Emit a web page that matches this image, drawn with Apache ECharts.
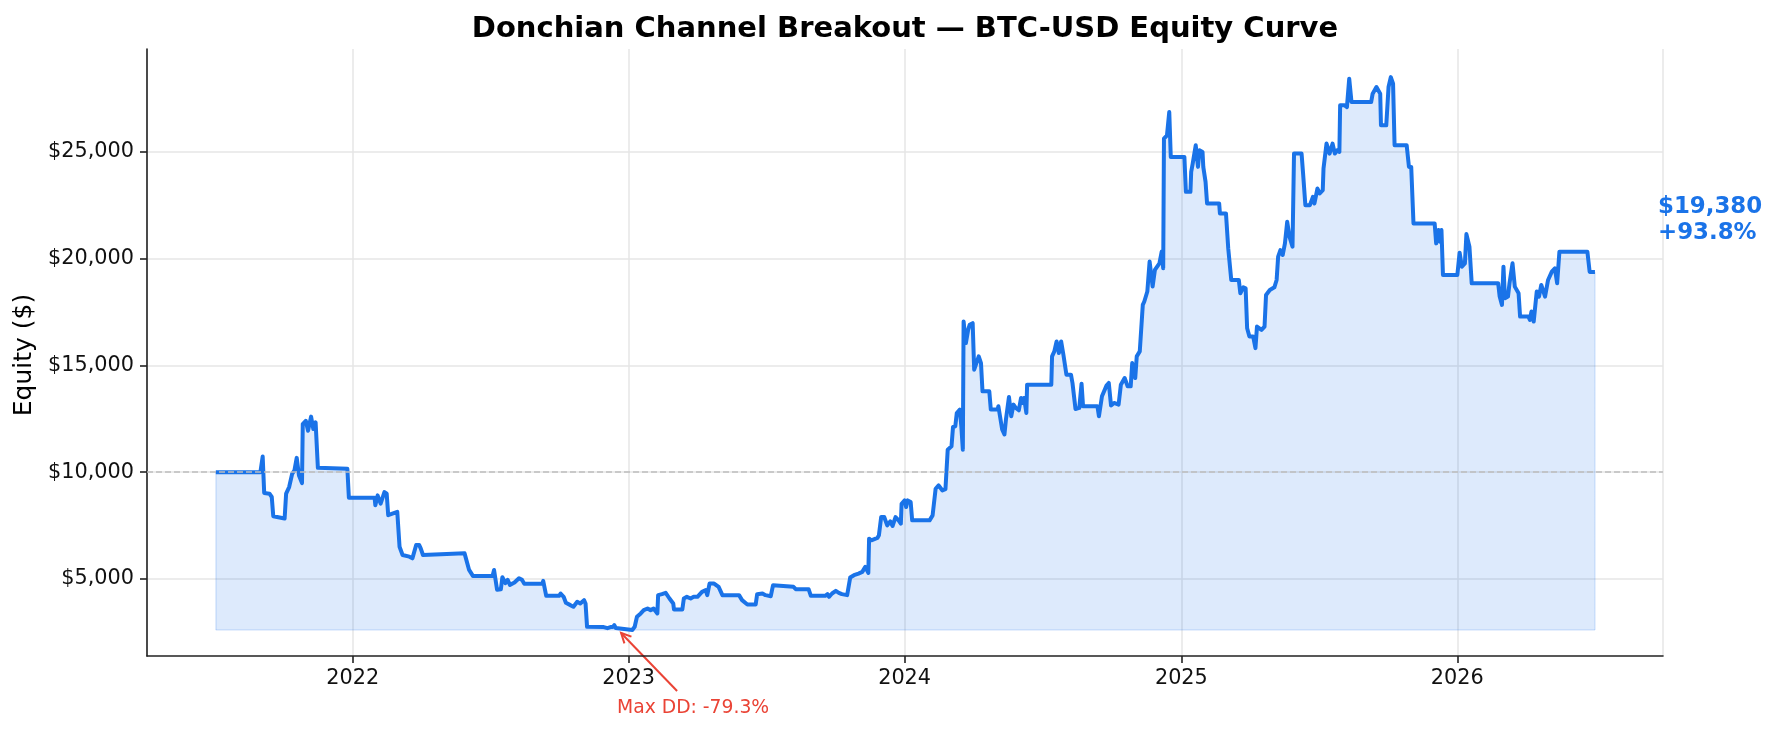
<!DOCTYPE html>
<html lang="en">
<head>
<meta charset="utf-8">
<title>Donchian Channel Breakout — BTC-USD Equity Curve</title>
<script src="https://cdn.jsdelivr.net/npm/echarts@6/dist/echarts.min.js"></script>
<style>
  html, body { margin: 0; padding: 0; background: #fff; }
  #chart { width: 1777px; height: 732px; }
</style>
</head>
<body>
<div id="chart"></div>
<script>
// equity curve (turning points of the daily series)
var dates = [
  '2021-07-04','2021-09-01','2021-09-04','2021-09-06','2021-09-13','2021-09-16','2021-09-18','2021-10-03',
  '2021-10-05','2021-10-09','2021-10-13','2021-10-16','2021-10-19','2021-10-22','2021-10-26','2021-10-27',
  '2021-10-31','2021-11-03','2021-11-07','2021-11-10','2021-11-13','2021-11-16','2021-12-25','2021-12-27',
  '2022-01-30','2022-01-31','2022-02-03','2022-02-07','2022-02-12','2022-02-15','2022-02-17','2022-03-01',
  '2022-03-04','2022-03-08','2022-03-17','2022-03-21','2022-03-26','2022-03-30','2022-04-01','2022-04-04',
  '2022-04-06','2022-05-29','2022-06-04','2022-06-09','2022-07-05','2022-07-07','2022-07-11','2022-07-16',
  '2022-07-18','2022-07-22','2022-07-25','2022-07-28','2022-08-03','2022-08-09','2022-08-13','2022-08-16',
  '2022-09-09','2022-09-10','2022-09-14','2022-10-01','2022-10-03','2022-10-07','2022-10-10','2022-10-16',
  '2022-10-20','2022-10-25','2022-10-29','2022-11-03','2022-11-05','2022-11-07','2022-11-29','2022-12-04',
  '2022-12-08','2022-12-11','2022-12-13','2022-12-15','2022-12-16','2023-01-06','2023-01-09','2023-01-12',
  '2023-01-17','2023-01-21','2023-01-26','2023-01-30','2023-02-03','2023-02-08','2023-02-09','2023-02-14',
  '2023-02-19','2023-02-24','2023-03-01','2023-03-02','2023-03-13','2023-03-15','2023-03-19','2023-03-24',
  '2023-03-28','2023-04-02','2023-04-08','2023-04-13','2023-04-15','2023-04-18','2023-04-24','2023-04-30',
  '2023-05-05','2023-05-27','2023-05-31','2023-06-07','2023-06-18','2023-06-20','2023-06-27','2023-07-01',
  '2023-07-03','2023-07-08','2023-07-11','2023-08-07','2023-08-10','2023-08-27','2023-08-30','2023-09-18',
  '2023-09-21','2023-09-23','2023-09-27','2023-10-02','2023-10-06','2023-10-10','2023-10-17','2023-10-21',
  '2023-10-26','2023-11-01','2023-11-06','2023-11-10','2023-11-14','2023-11-15','2023-11-18','2023-11-26',
  '2023-11-28','2023-12-01','2023-12-05','2023-12-09','2023-12-13','2023-12-16','2023-12-20','2023-12-24',
  '2023-12-27','2023-12-28','2024-01-01','2024-01-03','2024-01-05','2024-01-09','2024-01-11','2024-02-03',
  '2024-02-07','2024-02-11','2024-02-15','2024-02-20','2024-02-24','2024-02-27','2024-03-03','2024-03-05',
  '2024-03-08','2024-03-10','2024-03-14','2024-03-16','2024-03-18','2024-03-19','2024-03-22','2024-03-25',
  '2024-03-27','2024-03-31','2024-04-02','2024-04-04','2024-04-08','2024-04-11','2024-04-13','2024-04-22',
  '2024-04-24','2024-05-03','2024-05-04','2024-05-09','2024-05-12','2024-05-14','2024-05-18','2024-05-21',
  '2024-05-24','2024-05-27','2024-05-31','2024-06-03','2024-06-05','2024-06-07','2024-06-10','2024-06-11',
  '2024-07-13','2024-07-14','2024-07-17','2024-07-20','2024-07-23','2024-07-26','2024-07-29','2024-08-02',
  '2024-08-08','2024-08-10','2024-08-14','2024-08-19','2024-08-22','2024-08-24','2024-09-12','2024-09-14',
  '2024-09-18','2024-09-24','2024-09-27','2024-09-30','2024-10-04','2024-10-10','2024-10-13','2024-10-18',
  '2024-10-22','2024-10-26','2024-10-28','2024-11-01','2024-11-03','2024-11-07','2024-11-11','2024-11-13',
  '2024-11-17','2024-11-20','2024-11-24','2024-11-27','2024-12-03','2024-12-06','2024-12-08','2024-12-09',
  '2024-12-13','2024-12-16','2024-12-18','2025-01-05','2025-01-07','2025-01-13','2025-01-14','2025-01-16',
  '2025-01-20','2025-01-23','2025-01-25','2025-01-29','2025-01-30','2025-02-02','2025-02-04','2025-02-20',
  '2025-02-21','2025-03-01','2025-03-04','2025-03-06','2025-03-08','2025-03-18','2025-03-20','2025-03-24',
  '2025-03-27','2025-03-29','2025-04-01','2025-04-06','2025-04-09','2025-04-11','2025-04-17','2025-04-21',
  '2025-04-23','2025-04-28','2025-05-04','2025-05-07','2025-05-09','2025-05-12','2025-05-15','2025-05-18',
  '2025-05-21','2025-05-24','2025-05-28','2025-05-30','2025-06-09','2025-06-11','2025-06-14','2025-06-20',
  '2025-06-24','2025-06-26','2025-06-30','2025-07-03','2025-07-07','2025-07-08','2025-07-12','2025-07-16',
  '2025-07-20','2025-07-23','2025-07-26','2025-07-29','2025-07-30','2025-08-05','2025-08-08','2025-08-11',
  '2025-08-14','2025-09-09','2025-09-11','2025-09-16','2025-09-21','2025-09-22','2025-09-29','2025-10-02',
  '2025-10-05','2025-10-08','2025-10-10','2025-10-26','2025-10-29','2025-11-01','2025-11-04','2025-12-02',
  '2025-12-04','2025-12-07','2025-12-09','2025-12-11','2025-12-13','2026-01-01','2026-01-04','2026-01-07',
  '2026-01-11','2026-01-13','2026-01-17','2026-01-20','2026-02-24','2026-02-26','2026-03-01','2026-03-03',
  '2026-03-05','2026-03-09','2026-03-11','2026-03-15','2026-03-18','2026-03-23','2026-03-25','2026-04-05',
  '2026-04-07','2026-04-09','2026-04-12','2026-04-16','2026-04-19','2026-04-22','2026-04-27','2026-05-01',
  '2026-05-06','2026-05-10','2026-05-13','2026-05-16','2026-06-22','2026-06-25','2026-07-02'
];
var equity = [
  10000,10000,10730,9022,8990,8835,7935,7826,
  8990,9301,9922,10078,10668,9845,9488,12252,
  12407,11941,12600,12019,12330,10202,10155,8804,
  8804,8447,8913,8525,9068,8990,7981,8136,
  6506,6118,6040,5962,6584,6584,6428,6118,
  6195,6195,5419,5139,5139,5419,4487,4518,
  5077,4798,4953,4720,4829,5031,4953,4767,
  4767,4906,4207,4207,4315,4159,3879,3770,
  3692,3925,3847,4003,3847,2757,2740,2690,
  2740,2740,2835,2700,2608,2608,2757,3224,
  3380,3536,3614,3536,3614,3380,4237,4284,
  4346,4081,3848,3567,3567,4081,4159,4081,
  4159,4159,4392,4470,4237,4782,4782,4626,
  4237,4237,4003,3801,3801,4284,4315,4237,
  4315,4190,4704,4626,4517,4517,4206,4206,
  4284,4159,4315,4439,4346,4284,4237,5062,
  5171,5249,5327,5561,5280,6885,6807,6916,
  7040,7897,7897,7508,7695,7477,7897,7741,
  7586,8520,8676,8365,8676,8598,7741,7741,
  7975,9221,9377,9143,9200,11054,11210,12113,
  12144,12770,12925,12144,11054,17056,16044,16667,
  16901,16980,14798,14720,15421,15110,13785,13785,
  12929,12929,13085,11995,11761,12463,13522,12618,
  13163,13007,12898,13475,13241,13475,12774,14098,
  14098,15422,15655,16123,15578,16123,15500,14565,
  14565,14176,12960,13007,14144,13085,13085,12618,
  13553,14052,14176,13117,13241,13163,14098,14409,
  14020,14020,15110,14409,15422,15655,17836,17992,
  18460,19862,18694,19473,19784,20330,19551,25623,
  25779,26870,24766,24766,23130,23130,24065,24455,
  25312,24299,25078,25000,24299,23598,22585,22585,
  22117,22117,20481,20404,19001,19001,18379,18659,
  18612,16742,16353,16353,15808,16820,16665,16820,
  18301,18534,18659,19001,20092,20404,20170,20716,
  21728,21027,20560,24922,24922,23987,22507,22507,
  22897,22585,23286,23053,23208,24221,25390,24922,
  25390,24922,25078,25000,27181,27181,27103,28427,
  27337,27337,27727,28038,27727,26246,26246,28038,
  28505,28194,25312,25312,24299,24299,21650,21650,
  20716,21339,20793,21339,19235,19235,20280,19625,
  19781,21150,20560,18846,18846,18223,17833,19625,
  18145,18223,18846,19781,18690,18379,17288,17288,
  17132,17522,17054,18457,18223,18768,18223,19001,
  19391,19547,18846,20326,20326,19380,19380
];
var yTicks = [5000, 10000, 15000, 20000, 25000];
var startCapital = 10000;
var ddDate = '2022-12-22';   // where the drawdown arrow points

var FONT = 'DejaVu Sans';
var BLUE = '#1a73e8';
var RED = '#ea4335';

var trough = Math.min.apply(null, equity);
var lastValue = equity[equity.length - 1];
var peak = 0, maxDD = 0;
equity.forEach(function (v) {
  peak = Math.max(peak, v);
  maxDD = Math.min(maxDD, v / peak - 1);
});
var totalRet = (lastValue / startCapital - 1) * 100;

function money(v) { return '$' + Math.round(v).toLocaleString('en-US'); }
function ts(d) { var p = d.split('-'); return new Date(+p[0], p[1] - 1, +p[2]).getTime(); }

var chart = echarts.init(document.getElementById('chart'), null, { renderer: 'canvas' });
var first = dates[0], last = dates[dates.length - 1];
var edge = { color: 'rgba(26,115,232,0.15)', type: 'solid', width: 1.5 };

chart.setOption({
  animation: false,
  backgroundColor: '#fff',
  textStyle: { fontFamily: FONT },
  grid: { left: 147, right: 114, top: 49, bottom: 76 },
  xAxis: {
    type: 'time',
    min: '2021-04-04',
    max: '2026-09-30',
    splitNumber: 5,
    axisLine: { show: true, lineStyle: { color: '#222', width: 1.6 } },
    axisTick: { show: true, length: 7, lineStyle: { color: '#222', width: 1.6 } },
    axisLabel: { formatter: '{yyyy}', fontSize: 20.8, color: '#111', fontFamily: FONT, margin: 12, hideOverlap: false },
    splitLine: { show: true, lineStyle: { color: '#e6e6e6', width: 1.5 } }
  },
  yAxis: {
    type: 'value',
    min: 1387,
    max: 29821,
    axisLine: { show: true, lineStyle: { color: '#222', width: 1.6 } },
    axisTick: { show: true, length: 7, customValues: yTicks, lineStyle: { color: '#222', width: 1.6 } },
    axisLabel: { customValues: yTicks, formatter: money, fontSize: 20.8, color: '#111', fontFamily: FONT, margin: 13 },
    splitLine: { show: true, lineStyle: { color: '#e6e6e6', width: 1.5 } }
  },
  series: [{
    type: 'line',
    data: dates.map(function (d, i) { return [d, equity[i]]; }),
    showSymbol: false,
    symbol: 'none',
    silent: true,
    lineStyle: { color: BLUE, width: 4, join: 'round' },
    itemStyle: { color: BLUE },
    areaStyle: { color: 'rgba(26,115,232,0.15)', opacity: 1, origin: trough },
    z: 3,
    markLine: {
      silent: true,
      symbol: 'none',
      label: { show: false },
      data: [
        { yAxis: startCapital, lineStyle: { color: '#bdbdbd', type: [6, 3], width: 1.5 } },
        [{ coord: [first, trough], lineStyle: edge }, { coord: [last, trough] }],
        [{ coord: [first, trough], lineStyle: edge }, { coord: [first, equity[0]] }],
        [{ coord: [last, trough], lineStyle: edge }, { coord: [last, lastValue] }]
      ]
    }
  }]
});

// annotations placed from the axes' own scales
var P = chart.convertToPixel({ gridIndex: 0 }, [ts(ddDate), trough]);
var hx = P[0], hy = P[1] + 3;
var dx = 56, dy = 58, len = Math.sqrt(dx * dx + dy * dy), ux = dx / len, uy = dy / len;
function wing(a) {
  var w = 11;
  return [hx + w * (ux * Math.cos(a) - uy * Math.sin(a)), hy + w * (ux * Math.sin(a) + uy * Math.cos(a))];
}
var L = chart.convertToPixel({ gridIndex: 0 }, [ts(last), lastValue]);

chart.setOption({
  graphic: [
    { type: 'text', x: 905, y: 29.5, style: { text: 'Donchian Channel Breakout \u2014 BTC-USD Equity Curve', font: 'bold 29px ' + FONT, fill: '#000', align: 'center', verticalAlign: 'middle' } },
    { type: 'text', x: 24, y: 355, rotation: Math.PI / 2, style: { text: 'Equity ($)', font: '25px ' + FONT, fill: '#000', align: 'center', verticalAlign: 'middle' } },
    { type: 'polyline', shape: { points: [[hx + dx, hy + dy], [hx, hy]] }, style: { stroke: RED, lineWidth: 2 } },
    { type: 'polyline', shape: { points: [wing(0.46), [hx, hy], wing(-0.46)] }, style: { stroke: RED, lineWidth: 2, fill: null } },
    { type: 'text', x: hx + 72, y: hy + 75, style: { text: 'Max DD: ' + (maxDD * 100).toFixed(1) + '%', font: '18.75px ' + FONT, fill: RED, align: 'center', verticalAlign: 'middle' } },
    { type: 'text', x: L[0] + 63, y: L[1] - 52, style: { text: money(lastValue) + '\n+' + totalRet.toFixed(1) + '%', font: 'bold 22.9px ' + FONT, fill: BLUE, align: 'left', verticalAlign: 'middle', lineHeight: 26.6 } }
  ]
});
</script>
</body>
</html>
